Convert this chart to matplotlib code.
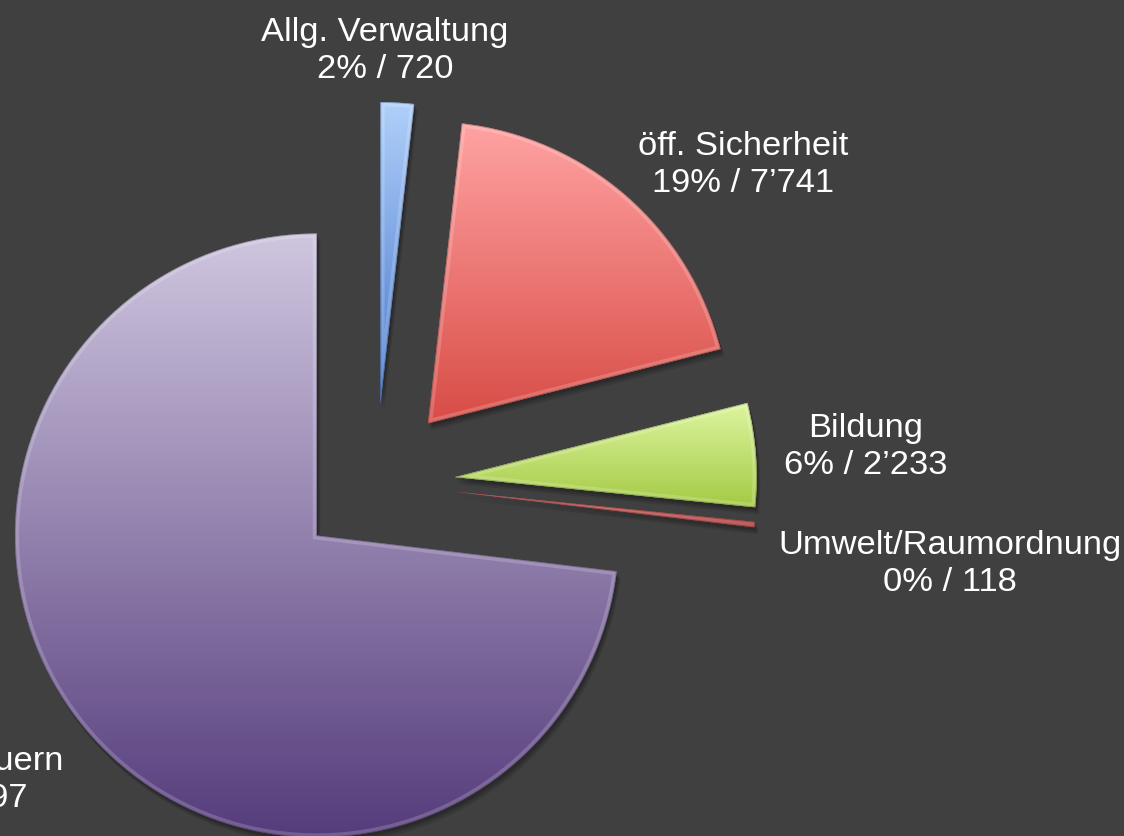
import numpy as np
import matplotlib
matplotlib.use("Agg")
import matplotlib.pyplot as plt
import matplotlib.patches as mpatches
from matplotlib.colors import LinearSegmentedColormap

# ---- data ----
categories = ["Allg. Verwaltung", "öff. Sicherheit", "Bildung",
              "Umwelt/Raumordnung", "Finanzen/Steuern"]
values = [720, 7741, 2233, 118, 29397]
value_labels = ["720", "7’741", "2’233", "118", "29’397"]
percent_labels = ["2%", "19%", "6%", "0%", "73%"]

# ---- style ----
top_colors = ["#B0D0FA", "#FFA3A3", "#DDF5A0", "#E06868", "#CFC6DF"]
bottom_colors = ["#4677CC", "#D84C46", "#A4CA44", "#B03838", "#553C7C"]
bg = "#404040"

W, H = 1124, 837
fig = plt.figure(figsize=(W / 100, H / 100), dpi=100, facecolor=bg)
ax = fig.add_axes([0, 0, 1, 1])
ax.set_facecolor(bg)

radius = 302
center = (376, H - 484)
explode = [79] * len(values)

wedges, _ = ax.pie(values, radius=radius, center=center, explode=explode,
                   startangle=90, counterclock=False, colors=bottom_colors,
                   wedgeprops=dict(linewidth=0))

for w, ctop, cbot in zip(wedges, top_colors, bottom_colors):
    w.set_zorder(3)
    path = w.get_path()
    bb = path.get_extents()
    # soft shadow
    for off, a in [(7, 0.10), (5, 0.12), (3, 0.15)]:
        sh = mpatches.Wedge((w.center[0] + off * 0.5, w.center[1] - off),
                            w.r, w.theta1, w.theta2,
                            facecolor="black", alpha=a, linewidth=0, zorder=2)
        ax.add_patch(sh)
    # vertical gradient fill
    cmap = LinearSegmentedColormap.from_list("g", [cbot, ctop])
    grad = np.linspace(0, 1, 256).reshape(-1, 1)
    im = ax.imshow(grad, extent=[bb.x0, bb.x1, bb.y0, bb.y1], origin="lower",
                   cmap=cmap, aspect="auto", interpolation="bicubic", zorder=4)
    im.set_clip_path(w)
    # bevel highlight (inner rim)
    rim = mpatches.Wedge(w.center, w.r, w.theta1, w.theta2, facecolor="none",
                         edgecolor=(1, 1, 1, 0.18), linewidth=6, zorder=5)
    ax.add_patch(rim)
    rim.set_clip_path(w)
    rim2 = mpatches.Wedge(w.center, w.r, w.theta1, w.theta2, facecolor="none",
                          edgecolor=(0, 0, 0, 0.25), linewidth=1.2, zorder=5)
    ax.add_patch(rim2)
    rim2.set_clip_path(w)

# ---- labels (screen positions of label blocks) ----
label_pos = [(385, 51, "center"), (743, 165, "center"), (866, 447, "center"),
             (950, 564, "center"), (63, 780, "right")]
for cat, pct, val, (lx, ly, ha) in zip(categories, percent_labels, value_labels, label_pos):
    ax.text(lx, H - ly, f"{cat}\n{pct} / {val}", ha=ha, va="center",
            multialignment="center", color="white", fontsize=24.8,
            family=["Liberation Sans", "DejaVu Sans"], zorder=10,
            linespacing=1.25)

ax.set_xlim(0, W)
ax.set_ylim(0, H)
ax.set_aspect("equal")
ax.axis("off")
fig.savefig("out.png", dpi=100, facecolor=bg)
